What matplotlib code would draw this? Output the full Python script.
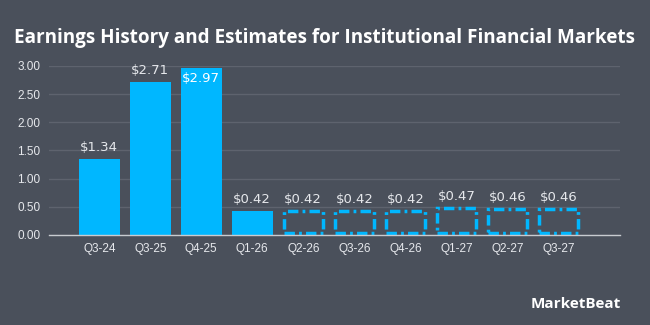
import matplotlib
matplotlib.use("Agg")
import matplotlib.pyplot as plt

# datos del grafico
trimestres = ["Q3-24", "Q3-25", "Q4-25", "Q1-26", "Q2-26", "Q3-26", "Q4-26", "Q1-27", "Q2-27", "Q3-27"]
eps = [1.34, 2.71, 2.97, 0.42, 0.42, 0.42, 0.42, 0.47, 0.46, 0.46]
es_estimado = [False, False, False, False, True, True, True, True, True, True]
ticks_y = [0.0, 0.5, 1.0, 1.5, 2.0, 2.5, 3.0]

fondo = "#4a505b"
azul = "#00b7ff"
texto = "#e6e8ec"

fig = plt.figure(figsize=(6.5, 3.25), dpi=100, facecolor=fondo)
ax = fig.add_axes([0.075, 0.277, 0.879, 0.52])
ax.set_facecolor(fondo)

for i, (v, est) in enumerate(zip(eps, es_estimado)):
    if est:
        # estimados: caja punteada, un poco metida hacia dentro
        ax.bar(i, v - 0.035, bottom=0.035, width=0.76, facecolor="none", edgecolor=azul,
               linewidth=2.5, linestyle=(0, (3, 1.2, 0.8, 1.2)), clip_on=False)
    else:
        ax.bar(i, v, width=0.8, color=azul)
    etiqueta = "$%.2f" % v
    if v > 2.9:
        ax.text(i, v - 0.08, etiqueta, ha="center", va="top", color="white", fontsize=9.5)
    else:
        ax.text(i, v + 0.09, etiqueta, ha="center", va="bottom", color=texto, fontsize=9.5)

ax.set_xlim(-0.99, 10.21)
ax.set_ylim(0, 3.0)
ax.set_yticks(ticks_y)
ax.set_yticklabels(["%.2f" % t for t in ticks_y])
ax.set_xticks(range(len(trimestres)))
ax.set_xticklabels(trimestres)
ax.tick_params(colors=texto, labelsize=8.5, length=0)
for lbl in ax.get_xticklabels() + ax.get_yticklabels():
    lbl.set_fontfamily("Liberation Sans")
ax.tick_params(axis="x", pad=6)
ax.tick_params(axis="y", pad=6)
ax.grid(axis="y", color="#5e636e", linewidth=1)
ax.set_axisbelow(True)
for s in ["top", "right", "left"]:
    ax.spines[s].set_visible(False)
ax.spines["bottom"].set_color("#c8cbd0")
ax.spines["bottom"].set_linewidth(1)

fig.text(0.5, 0.882, "Earnings History and Estimates for Institutional Financial Markets",
         ha="center", va="center", color="white", fontsize=13.6, fontweight="bold",
         family="Open Sans")

# logo
fig.text(0.955, 0.065, "MarketBeat", ha="right", va="center", color="white",
         fontsize=11, fontweight="bold", family="Open Sans")

fig.savefig("out.png", dpi=100, facecolor=fondo)
